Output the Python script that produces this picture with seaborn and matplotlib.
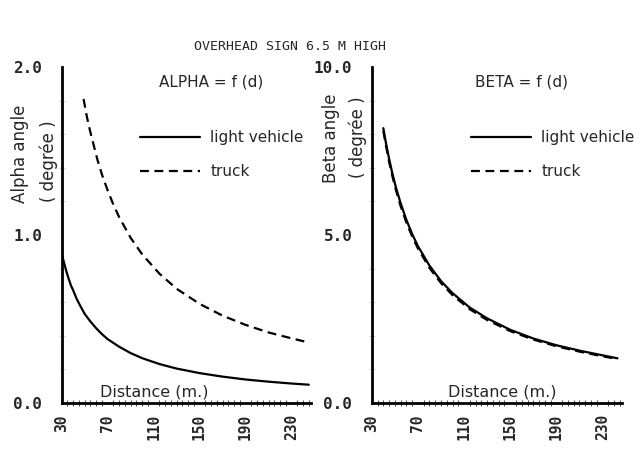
import numpy as np
import pandas as pd
import matplotlib
matplotlib.use('Agg')
import matplotlib.pyplot as plt
import seaborn as sns
from matplotlib.lines import Line2D

# alpha angle (degree) vs distance (m)
alpha_light_d = [30, 32, 34, 36, 38, 40, 43, 46, 50, 55, 60, 65, 70, 80, 90, 100, 115, 130, 150, 170, 190, 210, 230, 245]
alpha_light = [0.89, 0.835, 0.785, 0.74, 0.70, 0.67, 0.62, 0.58, 0.53, 0.485, 0.445, 0.41, 0.38, 0.335, 0.297, 0.267,
               0.232, 0.205, 0.178, 0.157, 0.14, 0.127, 0.116, 0.109]
alpha_truck_d = [49, 52, 55, 58, 61, 65, 70, 75, 80, 90, 100, 115, 130, 150, 170, 190, 210, 230, 245]
alpha_truck = [1.81, 1.70, 1.61, 1.53, 1.45, 1.36, 1.265, 1.18, 1.106, 0.983, 0.885, 0.77, 0.68, 0.59, 0.52, 0.465,
               0.42, 0.385, 0.36]

# beta angle (degree) vs distance (m)
beta_d = [40, 42, 45, 48, 51, 55, 60, 65, 70, 80, 90, 100, 115, 130, 150, 170, 190, 210, 230, 243]
beta_light = [8.18, 7.79, 7.27, 6.81, 6.41, 5.95, 5.45, 5.03, 4.67, 4.09, 3.63, 3.27, 2.84, 2.52, 2.18, 1.92, 1.72,
              1.56, 1.42, 1.33]
beta_truck = [8.10, 7.71, 7.18, 6.73, 6.33, 5.86, 5.37, 4.96, 4.60, 4.02, 3.57, 3.21, 2.79, 2.47, 2.14, 1.89, 1.69,
              1.53, 1.39, 1.31]

xticks = [30, 70, 110, 150, 190, 230]

alpha = pd.concat([pd.DataFrame({'d': alpha_light_d, 'angle': alpha_light, 'veh': 'light vehicle'}),
                   pd.DataFrame({'d': alpha_truck_d, 'angle': alpha_truck, 'veh': 'truck'})])
beta = pd.concat([pd.DataFrame({'d': beta_d, 'angle': beta_light, 'veh': 'light vehicle'}),
                  pd.DataFrame({'d': beta_d, 'angle': beta_truck, 'veh': 'truck'})])

sns.set_style('white')
plt.rcParams['font.family'] = ['DejaVu Sans']

fig = plt.figure(figsize = (6.41, 4.5), dpi = 100)
ax1 = fig.add_axes([0.0963, 0.1044, 0.389, 0.7467])
ax2 = fig.add_axes([0.58, 0.1044, 0.3905, 0.7467])

dashes = {'light vehicle': '', 'truck': (4, 2.5)}
mono = dict(family = 'DejaVu Sans Mono', weight = 'bold', size = 11.5)
monox = dict(family = 'DejaVu Sans Mono', weight = 'bold', size = 10.5)

for ax, df, ymax, yt, ttl, dx in [(ax1, alpha, 2.0, [0, 1, 2], 'ALPHA = f (d)', 0.37),
                                  (ax2, beta, 10.0, [0, 5, 10], 'BETA = f (d)', 0.52)]:
    sns.lineplot(data = df, x = 'd', y = 'angle', style = 'veh', dashes = dashes, color = 'black',
                 lw = 1.6, ax = ax, legend = False, sort = True)
    ax.set_xlim(30, 247)
    ax.set_ylim(0, ymax)
    ax.set_xlabel(''); ax.set_ylabel('')
    for s in ['top', 'right']:
        ax.spines[s].set_visible(False)
    for s in ['left', 'bottom']:
        ax.spines[s].set_linewidth(2)
        ax.spines[s].set_color('black')
    ax.set_xticks(xticks)
    ax.set_xticklabels([str(v) for v in xticks], rotation = 90, fontdict = monox)
    ax.set_xticks(np.arange(30, 250, 5), minor = True)
    ax.set_yticks(yt)
    ax.set_yticklabels(['%.1f' % v for v in yt], fontdict = mono)
    ax.set_yticks(np.linspace(0, ymax, 11), minor = True)
    ax.tick_params(axis = 'x', which = 'major', bottom = True, length = 0, pad = 8)
    ax.tick_params(axis = 'y', which = 'major', left = True, length = 0, pad = 14)
    ax.tick_params(axis = 'x', which = 'minor', bottom = True, direction = 'inout', length = 4, width = 0.8, color = '0.3')
    ax.tick_params(axis = 'y', which = 'minor', left = True, direction = 'inout', length = 4, width = 0.6, color = '0.8')
    ax.text(dx, 0.033, 'Distance (m.)', transform = ax.transAxes, ha = 'center', va = 'center', fontsize = 11.5)
    ax.text(0.6, 0.955, ttl, transform = ax.transAxes, ha = 'center', va = 'center', fontsize = 11)

# y labels
fig.text(20 / 641, 1 - 154 / 450, 'Alpha angle', rotation = 90, ha = 'center', va = 'center', fontsize = 12)
fig.text(49 / 641, 1 - 161 / 450, '( degrée )', rotation = 90, ha = 'center', va = 'center', fontsize = 12)
fig.text(331 / 641, 1 - 138 / 450, 'Beta angle', rotation = 90, ha = 'center', va = 'center', fontsize = 12)
fig.text(358 / 641, 1 - 137 / 450, '( degrée )', rotation = 90, ha = 'center', va = 'center', fontsize = 12)

# legends
h = [Line2D([], [], color = 'black', lw = 1.6),
     Line2D([], [], color = 'black', lw = 1.6, ls = (0, (4, 2.5)))]
for x0 in [140 / 641, 471 / 641]:
    fig.legend(h, ['light vehicle', 'truck'], loc = 'upper left', bbox_to_anchor = (x0, 1 - 130 / 450),
               frameon = False, fontsize = 11, handlelength = 3.9, handletextpad = 0.7, labelspacing = 1.25,
               borderpad = 0, borderaxespad = 0)

fig.text(290 / 641, 1 - 47 / 450, 'OVERHEAD SIGN 6.5 M HIGH', ha = 'center', va = 'center',
         family = 'DejaVu Sans Mono', fontsize = 9.5)

fig.savefig('out.png', dpi = 100)
